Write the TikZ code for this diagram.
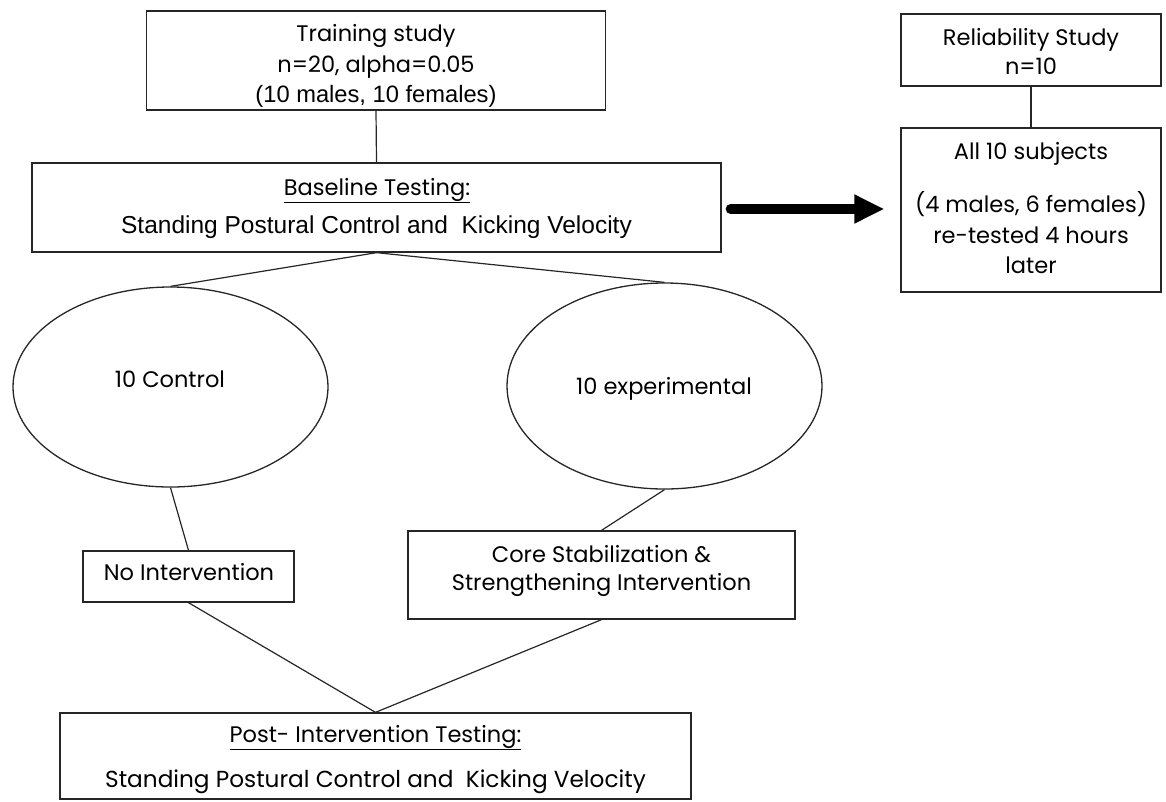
\documentclass[tikz,border=0pt]{standalone}
\usepackage{fontspec}
\setmainfont{Poppins}
\newfontfamily\arialfont{Liberation Sans}
\usetikzlibrary{arrows.meta,shapes.geometric}

\begin{document}
\begin{tikzpicture}[x=1pt,y=-1pt,
    box/.style={draw=black!85, line width=1.3pt, rectangle, inner sep=0pt},
    oval/.style={draw=black!85, line width=1.3pt, ellipse, inner sep=0pt},
    link/.style={draw=black!85, line width=1.2pt},
    txt/.style={anchor=base, inner sep=0pt, font=\fontsize{22.5}{26}\selectfont},
    atxt/.style={anchor=base, inner sep=0pt, font=\arialfont\fontsize{24.5}{28}\selectfont}]
  \useasboundingbox (0,0) rectangle (1166,801);
  % boxes and ovals
  \node[box, minimum width=459pt, minimum height=99pt] (train) at (376,60.5) {};
  \node[box, minimum width=689pt, minimum height=89pt] (base) at (376.5,207.5) {};
  \node[box, minimum width=260pt, minimum height=72pt] (rel) at (1031,50) {};
  \node[box, minimum width=260pt, minimum height=164pt] (all) at (1031,210) {};
  \node[oval, minimum width=315pt, minimum height=200pt] (ctrl) at (170.5,387) {};
  \node[oval, minimum width=315pt, minimum height=206pt] (expr) at (664.5,386) {};
  \node[box, minimum width=211pt, minimum height=51pt] (noint) at (188.5,576.5) {};
  \node[box, minimum width=387pt, minimum height=88pt] (core) at (601.5,575) {};
  \node[box, minimum width=631pt, minimum height=86pt] (post) at (375.5,756) {};
  % texts
  \node[txt] (trainA) at (376,41) {Training study};
  \node[txt] (trainB) at (376,72) {n=20, alpha=0.05};
  \node[atxt, font=\arialfont\fontsize{23.7}{27}\selectfont] (trainC) at (376,102) {(10 males, 10 females)};
  \node[txt] (baseA) at (377,195) {\underline{Baseline Testing:}};
  \node[atxt] (baseB) at (376.5,233) {Standing Postural Control and\ \ Kicking Velocity};
  \node[txt] (relA) at (1031,45) {Reliability Study};
  \node[txt] (relB) at (1031,74) {n=10};
  \node[txt] (allA) at (1031,159) {All 10 subjects};
  \node[txt] (allB) at (1031,212) {(4 males, 6 females)};
  \node[txt] (allC) at (1031,243) {re-tested 4 hours};
  \node[txt] (allD) at (1031,273) {later};
  \node[txt] (ctrlA) at (170,387) {10 Control};
  \node[txt] (exprA) at (664,394) {10 experimental};
  \node[txt] (nointA) at (189,580) {No Intervention};
  \node[txt] (coreA) at (601.5,562) {Core Stabilization \&};
  \node[txt] (coreB) at (601.5,590) {Strengthening Intervention};
  \node[txt] (postA) at (375.5,742) {\underline{Post- Intervention Testing:}};
  \node[txt, font=\fontsize{23.2}{26}\selectfont] (postB) at (375.5,787) {Standing Postural Control and\ \ Kicking Velocity};
  % connectors
  \draw[link] (train.south) -- (base.north);
  \draw[link] (rel.south) -- (all.north);
  \draw[link] (base.south) -- (ctrl.north);
  \draw[link] (base.south) -- (expr.north);
  \draw[link] (ctrl.south) -- (noint.north);
  \draw[link] (expr.south) -- (core.north);
  \draw[link] (noint.south) -- (post.north);
  \draw[link] (core.south) -- (post.north);
  \draw[line width=10pt, line cap=round, -{Triangle[length=30pt,width=27pt]},
        shorten <=9pt, shorten >=16pt] (base.east) ++(0,1.5) coordinate (arrowstart) -- (arrowstart -| all.west);
\end{tikzpicture}
\end{document}
